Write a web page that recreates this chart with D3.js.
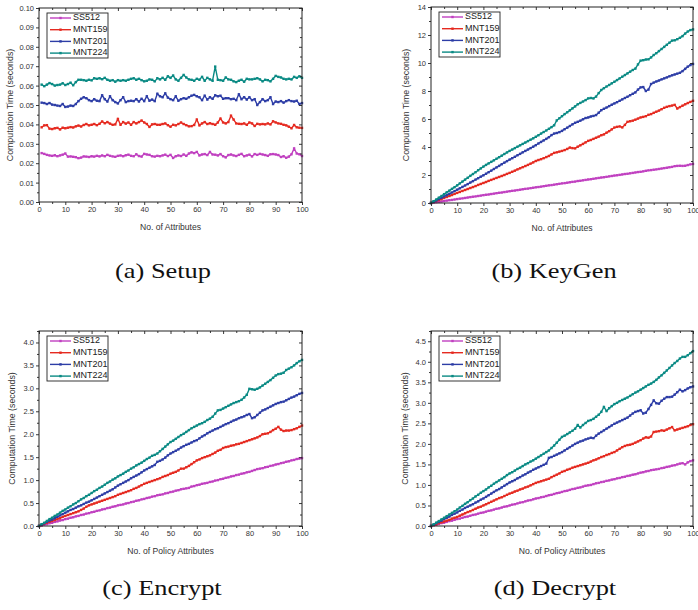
<!DOCTYPE html>
<html>
<head>
<meta charset="utf-8">
<script src="https://cdn.jsdelivr.net/npm/d3@7"></script>
<style>
  body { margin: 0; background: #fff; }
  svg { display: block; }
</style>
</head>
<body>
<div id="chart"></div>
<script>
// series names + colours
const seriesNames = ["SS512", "MNT159", "MNT201", "MNT224"];
const seriesColors = ["#c040c0", "#e52a20", "#2d3da6", "#0a8a84"];

// (a) Setup, attributes 1..100
const setupSS512 = [
  .0252,.0248,.0243,.0240,.0238,.0241,.0236,.0240,.0244,.0250,
  .0234,.0235,.0233,.0231,.0226,.0229,.0235,.0234,.0232,.0236,
  .0234,.0238,.0235,.0240,.0236,.0243,.0238,.0235,.0233,.0238,
  .0240,.0236,.0241,.0244,.0238,.0236,.0246,.0237,.0234,.0248,
  .0245,.0243,.0236,.0234,.0238,.0236,.0240,.0244,.0237,.0243,
  .0227,.0236,.0240,.0237,.0245,.0238,.0250,.0256,.0252,.0258,
  .0240,.0245,.0247,.0242,.0258,.0245,.0244,.0240,.0247,.0236,
  .0230,.0242,.0245,.0240,.0237,.0243,.0248,.0236,.0240,.0244,
  .0235,.0247,.0243,.0248,.0245,.0242,.0238,.0246,.0247,.0245,
  .0242,.0232,.0236,.0228,.0234,.0246,.0276,.0250,.0246,.0237];
const setupMNT159 = [
  .0385,.0395,.0396,.0378,.0376,.0380,.0382,.0374,.0383,.0380,
  .0383,.0386,.0384,.0390,.0394,.0389,.0397,.0402,.0395,.0398,
  .0402,.0396,.0403,.0415,.0406,.0412,.0404,.0398,.0400,.0428,
  .0398,.0412,.0404,.0410,.0398,.0412,.0405,.0412,.0420,.0410,
  .0402,.0387,.0400,.0402,.0398,.0398,.0402,.0405,.0396,.0388,
  .0398,.0395,.0402,.0410,.0402,.0396,.0390,.0391,.0397,.0425,
  .0395,.0405,.0412,.0402,.0406,.0402,.0398,.0410,.0430,.0410,
  .0405,.0412,.0445,.0425,.0405,.0403,.0402,.0405,.0398,.0410,
  .0405,.0392,.0403,.0400,.0402,.0400,.0405,.0400,.0416,.0410,
  .0405,.0403,.0398,.0395,.0388,.0380,.0397,.0385,.0383,.0382];
const setupMNT201 = [
  .0512,.0510,.0505,.0510,.0502,.0500,.0497,.0495,.0505,.0490,
  .0492,.0497,.0495,.0505,.0520,.0532,.0540,.0535,.0525,.0520,
  .0530,.0522,.0520,.0550,.0530,.0518,.0545,.0525,.0515,.0508,
  .0525,.0540,.0515,.0520,.0522,.0520,.0530,.0518,.0532,.0520,
  .0545,.0522,.0528,.0520,.0558,.0545,.0540,.0560,.0538,.0530,
  .0525,.0545,.0522,.0530,.0535,.0532,.0540,.0548,.0552,.0545,
  .0540,.0525,.0548,.0528,.0540,.0532,.0550,.0545,.0548,.0532,
  .0535,.0535,.0530,.0532,.0525,.0555,.0530,.0540,.0528,.0540,
  .0525,.0530,.0500,.0515,.0530,.0520,.0525,.0540,.0505,.0518,
  .0515,.0520,.0512,.0520,.0525,.0520,.0518,.0522,.0505,.0510];
const setupMNT224 = [
  .0605,.0597,.0605,.0613,.0608,.0600,.0603,.0605,.0612,.0603,
  .0608,.0615,.0602,.0618,.0630,.0630,.0628,.0625,.0630,.0627,
  .0638,.0635,.0638,.0633,.0640,.0630,.0625,.0628,.0620,.0628,
  .0625,.0628,.0625,.0630,.0635,.0638,.0630,.0635,.0628,.0622,
  .0625,.0632,.0630,.0622,.0638,.0632,.0640,.0630,.0648,.0640,
  .0652,.0632,.0625,.0640,.0655,.0642,.0632,.0630,.0625,.0635,
  .0630,.0645,.0625,.0640,.0632,.0625,.0698,.0630,.0628,.0625,
  .0642,.0632,.0630,.0622,.0618,.0625,.0630,.0620,.0635,.0632,
  .0632,.0635,.0638,.0632,.0622,.0630,.0628,.0622,.0635,.0650,
  .0645,.0642,.0635,.0632,.0635,.0632,.0645,.0640,.0648,.0640];

// (b) KeyGen, attributes 0..100
const keygenSS512 = [0,
  0.03,0.06,0.08,0.11,0.14,0.17,0.20,0.22,0.25,0.28,
  0.31,0.33,0.36,0.39,0.42,0.45,0.47,0.50,0.53,0.56,
  0.59,0.61,0.64,0.67,0.70,0.73,0.75,0.78,0.81,0.84,
  0.87,0.89,0.92,0.95,0.98,1.01,1.03,1.06,1.09,1.12,
  1.14,1.17,1.20,1.23,1.26,1.28,1.31,1.34,1.37,1.40,
  1.42,1.45,1.48,1.51,1.53,1.57,1.59,1.62,1.65,1.68,
  1.70,1.73,1.76,1.79,1.82,1.84,1.87,1.90,1.93,1.96,
  1.98,2.01,2.04,2.07,2.09,2.12,2.15,2.18,2.21,2.23,
  2.26,2.30,2.33,2.35,2.38,2.40,2.43,2.46,2.49,2.52,
  2.55,2.58,2.63,2.65,2.66,2.65,2.66,2.71,2.76,2.79];
const keygenMNT159 = [0,
  0.07,0.14,0.21,0.28,0.36,0.43,0.50,0.57,0.65,0.72,
  0.79,0.86,0.93,1.00,1.07,1.14,1.21,1.29,1.36,1.43,
  1.50,1.58,1.65,1.72,1.79,1.86,1.93,2.00,2.08,2.15,
  2.23,2.31,2.40,2.48,2.56,2.64,2.72,2.81,2.90,3.00,
  3.07,3.13,3.20,3.28,3.36,3.47,3.58,3.62,3.67,3.72,
  3.78,3.86,3.96,3.92,3.90,4.02,4.12,4.22,4.33,4.44,
  4.50,4.58,4.66,4.74,4.84,4.90,5.02,5.13,5.26,5.39,
  5.44,5.47,5.40,5.58,5.80,5.84,5.88,5.95,6.03,6.11,
  6.15,6.20,6.30,6.35,6.44,6.52,6.60,6.70,6.80,6.87,
  6.92,6.96,7.01,6.75,6.85,6.95,7.05,7.14,7.22,7.30];
const keygenMNT201 = [0,
  0.09,0.18,0.28,0.37,0.47,0.56,0.66,0.75,0.85,0.95,
  1.05,1.15,1.25,1.35,1.46,1.56,1.67,1.77,1.88,1.98,
  2.09,2.20,2.31,2.43,2.54,2.65,2.77,2.88,2.99,3.10,
  3.20,3.30,3.41,3.51,3.62,3.72,3.82,3.92,4.02,4.13,
  4.25,4.36,4.47,4.58,4.70,4.85,4.96,5.00,5.06,5.15,
  5.27,5.38,5.50,5.62,5.73,5.80,5.88,5.98,6.07,6.11,
  6.18,6.22,6.28,6.45,6.63,6.73,6.82,6.92,7.02,7.11,
  7.20,7.30,7.40,7.50,7.59,7.70,7.80,7.90,8.10,8.26,
  8.28,8.00,8.10,8.50,8.60,8.68,8.75,8.83,8.90,8.97,
  9.05,9.12,9.18,9.24,9.30,9.42,9.58,9.74,9.85,9.93];
const keygenMNT224 = [0,
  0.13,0.25,0.38,0.50,0.63,0.76,0.88,1.01,1.13,1.26,
  1.40,1.53,1.67,1.80,1.94,2.07,2.20,2.34,2.47,2.60,
  2.72,2.83,2.94,3.05,3.16,3.27,3.38,3.50,3.61,3.72,
  3.82,3.92,4.02,4.12,4.22,4.32,4.42,4.52,4.62,4.73,
  4.84,4.96,5.07,5.18,5.30,5.42,5.55,5.90,6.05,6.20,
  6.35,6.48,6.62,6.76,6.90,7.05,7.15,7.25,7.35,7.47,
  7.50,7.47,7.60,7.85,8.07,8.20,8.32,8.43,8.55,8.66,
  8.78,8.90,9.02,9.14,9.26,9.38,9.50,9.60,9.90,10.17,
  10.20,10.25,10.26,10.40,10.57,10.70,10.85,11.00,11.15,11.30,
  11.45,11.60,11.62,11.70,11.80,11.92,12.10,12.25,12.35,12.40];

// (c) Encrypt, policy attributes 0..100
const encSS512 = [0,
  0.01,0.03,0.04,0.06,0.07,0.09,0.10,0.12,0.13,0.15,
  0.16,0.18,0.19,0.21,0.22,0.24,0.25,0.27,0.28,0.30,
  0.31,0.33,0.34,0.36,0.37,0.39,0.40,0.42,0.43,0.45,
  0.46,0.47,0.49,0.50,0.52,0.53,0.55,0.56,0.58,0.59,
  0.61,0.62,0.64,0.65,0.67,0.68,0.69,0.71,0.72,0.74,
  0.75,0.77,0.78,0.80,0.81,0.82,0.83,0.86,0.87,0.89,
  0.90,0.92,0.93,0.94,0.96,0.97,0.99,1.00,1.02,1.03,
  1.05,1.06,1.08,1.09,1.11,1.12,1.14,1.15,1.17,1.18,
  1.20,1.22,1.24,1.25,1.26,1.28,1.29,1.31,1.32,1.34,
  1.35,1.37,1.38,1.40,1.41,1.43,1.44,1.46,1.47,1.48];
const encMNT159 = [0,
  0.02,0.05,0.07,0.09,0.11,0.13,0.15,0.17,0.20,0.22,
  0.24,0.26,0.28,0.30,0.32,0.35,0.38,0.42,0.45,0.47,
  0.49,0.51,0.53,0.55,0.57,0.59,0.61,0.63,0.65,0.68,
  0.70,0.72,0.74,0.76,0.78,0.81,0.83,0.86,0.89,0.92,
  0.94,0.96,0.98,1.00,1.02,1.04,1.07,1.09,1.11,1.14,
  1.16,1.18,1.21,1.25,1.25,1.28,1.31,1.35,1.39,1.43,
  1.45,1.48,1.50,1.52,1.54,1.57,1.60,1.64,1.66,1.70,
  1.72,1.73,1.75,1.76,1.78,1.79,1.81,1.83,1.85,1.87,
  1.89,1.91,1.93,1.96,2.00,2.01,2.02,2.05,2.09,2.12,
  2.16,2.10,2.07,2.08,2.08,2.09,2.11,2.13,2.16,2.19];
const encMNT201 = [0,
  0.03,0.06,0.09,0.12,0.14,0.17,0.20,0.23,0.26,0.29,
  0.32,0.35,0.37,0.40,0.43,0.45,0.48,0.51,0.53,0.56,
  0.59,0.62,0.65,0.68,0.71,0.74,0.77,0.80,0.84,0.88,
  0.91,0.94,0.97,1.00,1.04,1.07,1.10,1.13,1.17,1.21,
  1.24,1.27,1.30,1.33,1.40,1.42,1.45,1.49,1.54,1.58,
  1.61,1.64,1.67,1.71,1.74,1.77,1.79,1.82,1.85,1.87,
  1.91,1.95,1.98,2.02,2.05,2.08,2.11,2.13,2.16,2.19,
  2.22,2.24,2.27,2.30,2.32,2.35,2.37,2.39,2.42,2.44,
  2.35,2.37,2.42,2.47,2.52,2.54,2.57,2.60,2.63,2.66,
  2.68,2.70,2.71,2.74,2.77,2.80,2.82,2.85,2.88,2.90];
const encMNT224 = [0,
  0.04,0.07,0.11,0.15,0.18,0.22,0.25,0.29,0.33,0.36,
  0.40,0.43,0.47,0.50,0.54,0.58,0.61,0.65,0.68,0.72,
  0.76,0.79,0.83,0.86,0.90,0.94,0.97,1.01,1.04,1.08,
  1.11,1.14,1.18,1.21,1.25,1.28,1.32,1.35,1.38,1.42,
  1.46,1.49,1.53,1.55,1.58,1.63,1.68,1.73,1.78,1.83,
  1.86,1.90,1.94,1.98,2.01,2.05,2.09,2.13,2.16,2.19,
  2.22,2.24,2.27,2.31,2.34,2.38,2.45,2.52,2.53,2.56,
  2.59,2.62,2.65,2.68,2.70,2.72,2.75,2.80,2.86,2.99,
  2.98,2.97,2.99,3.02,3.06,3.10,3.14,3.18,3.23,3.28,
  3.31,3.32,3.34,3.40,3.43,3.46,3.50,3.55,3.59,3.62];

// (d) Decrypt, policy attributes 0..100
const decSS512 = [0,
  0.02,0.03,0.05,0.07,0.08,0.10,0.12,0.13,0.15,0.17,
  0.18,0.20,0.22,0.23,0.25,0.27,0.28,0.30,0.32,0.33,
  0.35,0.37,0.38,0.40,0.42,0.43,0.45,0.47,0.48,0.50,
  0.52,0.53,0.55,0.57,0.58,0.60,0.62,0.63,0.65,0.67,
  0.68,0.70,0.71,0.73,0.75,0.76,0.78,0.80,0.81,0.83,
  0.85,0.86,0.88,0.90,0.91,0.93,0.94,0.96,0.98,0.99,
  1.00,1.02,1.04,1.05,1.07,1.08,1.10,1.11,1.13,1.14,
  1.16,1.17,1.19,1.20,1.22,1.23,1.25,1.26,1.28,1.30,
  1.31,1.33,1.34,1.36,1.37,1.38,1.39,1.41,1.42,1.44,
  1.45,1.47,1.48,1.50,1.52,1.53,1.50,1.55,1.58,1.60];
const decMNT159 = [0,
  0.02,0.04,0.07,0.09,0.11,0.13,0.15,0.18,0.20,0.22,
  0.25,0.28,0.31,0.34,0.36,0.39,0.42,0.45,0.47,0.50,
  0.53,0.56,0.59,0.62,0.65,0.68,0.70,0.73,0.76,0.79,
  0.81,0.84,0.86,0.89,0.91,0.94,0.96,0.99,1.02,1.05,
  1.07,1.09,1.11,1.13,1.15,1.19,1.22,1.25,1.28,1.32,
  1.34,1.37,1.39,1.42,1.44,1.46,1.48,1.50,1.52,1.54,
  1.57,1.60,1.62,1.65,1.68,1.70,1.73,1.75,1.78,1.80,
  1.84,1.88,1.92,1.95,1.97,1.98,2.00,2.03,2.06,2.09,
  2.13,2.16,2.15,2.18,2.29,2.30,2.31,2.33,2.32,2.35,
  2.38,2.41,2.33,2.35,2.37,2.39,2.41,2.43,2.46,2.48];
const decMNT201 = [0,
  0.03,0.07,0.10,0.13,0.17,0.20,0.23,0.27,0.30,0.33,
  0.37,0.40,0.44,0.47,0.50,0.53,0.57,0.60,0.64,0.67,
  0.71,0.75,0.79,0.83,0.87,0.90,0.94,0.98,1.02,1.06,
  1.09,1.12,1.16,1.19,1.23,1.26,1.30,1.33,1.37,1.40,
  1.43,1.46,1.49,1.52,1.66,1.68,1.71,1.74,1.77,1.80,
  1.84,1.88,1.92,1.96,2.00,2.03,2.06,2.08,2.11,2.13,
  2.15,2.14,2.20,2.25,2.29,2.33,2.37,2.41,2.45,2.49,
  2.52,2.55,2.58,2.61,2.64,2.69,2.74,2.78,2.80,2.82,
  2.74,2.76,2.85,2.95,3.06,2.99,2.98,3.05,3.10,3.14,
  3.14,3.15,3.20,3.26,3.32,3.28,3.31,3.35,3.38,3.40];
const decMNT224 = [0,
  0.04,0.08,0.12,0.16,0.20,0.24,0.28,0.32,0.36,0.40,
  0.45,0.49,0.54,0.58,0.63,0.67,0.72,0.76,0.81,0.85,
  0.89,0.94,0.98,1.03,1.07,1.11,1.15,1.19,1.24,1.28,
  1.31,1.35,1.39,1.42,1.46,1.50,1.53,1.57,1.60,1.64,
  1.68,1.72,1.76,1.80,1.84,1.90,1.96,2.03,2.10,2.17,
  2.20,2.24,2.28,2.32,2.37,2.46,2.40,2.46,2.51,2.56,
  2.58,2.61,2.66,2.71,2.78,2.90,2.80,2.87,2.92,2.97,
  3.00,3.04,3.07,3.10,3.13,3.17,3.21,3.25,3.28,3.32,
  3.36,3.40,3.44,3.47,3.51,3.56,3.62,3.67,3.73,3.79,
  3.85,3.91,3.97,4.02,4.08,4.12,4.12,4.16,4.21,4.26];

// y tick values per panel
const setupTicks = [0, 0.01, 0.02, 0.03, 0.04, 0.05, 0.06, 0.07, 0.08, 0.09, 0.10];
const keygenTicks = [0, 2, 4, 6, 8, 10, 12, 14];
const encTicks = [0, 0.5, 1.0, 1.5, 2.0, 2.5, 3.0, 3.5, 4.0];
const decTicks = [0, 0.5, 1.0, 1.5, 2.0, 2.5, 3.0, 3.5, 4.0, 4.5];
const xTicks = [0, 10, 20, 30, 40, 50, 60, 70, 80, 90, 100];

const panels = [
  { left: 39, top: 8, w: 263, h: 194, yMax: 0.10, yTicks: setupTicks, yMinorStep: 0.005, fmt: ".2f",
    x0: 1, series: [setupSS512, setupMNT159, setupMNT201, setupMNT224],
    xTitle: "No. of Attributes", yTitleX: 11, caption: "(a) Setup", capX: 163, capY: 278 },
  { left: 431, top: 7, w: 262, h: 196, yMax: 14, yTicks: keygenTicks, yMinorStep: 1, fmt: "d",
    x0: 0, series: [keygenSS512, keygenMNT159, keygenMNT201, keygenMNT224],
    xTitle: "No. of Attributes", yTitleX: 407, caption: "(b) KeyGen", capX: 554, capY: 278 },
  { left: 39, top: 331, w: 263, h: 195, yMax: 4.25, yTicks: encTicks, yMinorStep: 0.25, fmt: ".1f",
    x0: 0, series: [encSS512, encMNT159, encMNT201, encMNT224],
    xTitle: "No. of Policy Attributes", yTitleX: 13, caption: "(c) Encrypt", capX: 162, capY: 595 },
  { left: 431, top: 331, w: 262, h: 195, yMax: 4.75, yTicks: decTicks, yMinorStep: 0.25, fmt: ".1f",
    x0: 0, series: [decSS512, decMNT159, decMNT201, decMNT224],
    xTitle: "No. of Policy Attributes", yTitleX: 406, caption: "(d) Decrypt", capX: 555, capY: 595 }
];

const svg = d3.select("#chart").append("svg")
  .attr("width", 698)
  .attr("height", 610)
  .style("font-family", "Liberation Sans, Arial, sans-serif");

panels.forEach(drawPanel);

function drawPanel(p) {
  const g = svg.append("g").attr("transform", `translate(${p.left},${p.top})`);
  const x = d3.scaleLinear().domain([0, 100]).range([0, p.w]);
  const y = d3.scaleLinear().domain([0, p.yMax]).range([p.h, 0]);

  const minorX = d3.range(5, 100, 10);
  const minorY = d3.range(p.yMinorStep, p.yMax + 1e-9, p.yMinorStep)
    .filter((v) => !p.yTicks.some((t) => Math.abs(t - v) < 1e-9));

  // lines + markers
  p.series.forEach((vals, si) => {
    const pts = vals.map((v, i) => [p.x0 + i, v]);
    const line = d3.line().x((d) => x(d[0])).y((d) => y(d[1]));
    g.append("path")
      .datum(pts)
      .attr("fill", "none")
      .attr("stroke", seriesColors[si])
      .attr("stroke-width", 1.4)
      .attr("d", line);
    g.selectAll(null)
      .data(pts)
      .enter()
      .append("rect")
      .attr("x", (d) => x(d[0]) - 1.2)
      .attr("y", (d) => y(d[1]) - 1.2)
      .attr("width", 2.4)
      .attr("height", 2.4)
      .attr("fill", seriesColors[si]);
  });

  // axes: outward ticks left/bottom, inward ticks top/right
  const axisStyle = (sel) => {
    sel.select(".domain").remove();
    sel.selectAll("line").attr("stroke", "#222").attr("stroke-width", 0.9);
    sel.selectAll("text").attr("fill", "#333").style("font-size", "7.5px");
  };
  g.append("g").attr("transform", `translate(0,${p.h})`)
    .call(d3.axisBottom(x).tickValues(xTicks).tickSize(3).tickPadding(2).tickFormat(d3.format("d")))
    .call(axisStyle);
  g.append("g").attr("transform", `translate(0,${p.h})`)
    .call(d3.axisBottom(x).tickValues(minorX).tickSize(2).tickFormat(""))
    .call(axisStyle);
  g.append("g")
    .call(d3.axisLeft(y).tickValues(p.yTicks).tickSize(3).tickPadding(2).tickFormat(d3.format(p.fmt)))
    .call(axisStyle);
  g.append("g")
    .call(d3.axisLeft(y).tickValues(minorY).tickSize(2).tickFormat(""))
    .call(axisStyle);
  g.append("g")
    .call(d3.axisBottom(x).tickValues(xTicks).tickSize(3).tickFormat(""))
    .call(axisStyle);
  g.append("g")
    .call(d3.axisBottom(x).tickValues(minorX).tickSize(2).tickFormat(""))
    .call(axisStyle);
  g.append("g").attr("transform", `translate(${p.w},0)`)
    .call(d3.axisLeft(y).tickValues(p.yTicks).tickSize(3).tickFormat(""))
    .call(axisStyle);
  g.append("g").attr("transform", `translate(${p.w},0)`)
    .call(d3.axisLeft(y).tickValues(minorY).tickSize(2).tickFormat(""))
    .call(axisStyle);

  // frame
  g.append("rect")
    .attr("width", p.w)
    .attr("height", p.h)
    .attr("fill", "none")
    .attr("stroke", "#222")
    .attr("stroke-width", 1);

  // axis titles
  g.append("text")
    .attr("x", p.w / 2)
    .attr("y", p.h + 28)
    .attr("text-anchor", "middle")
    .attr("fill", "#333")
    .style("font-size", "8.6px")
    .text(p.xTitle);
  svg.append("text")
    .attr("transform", `translate(${p.yTitleX},${p.top + p.h / 2}) rotate(-90)`)
    .attr("text-anchor", "middle")
    .attr("dominant-baseline", "middle")
    .attr("fill", "#333")
    .style("font-size", "8.8px")
    .text("Computation Time (seconds)");

  // legend
  const lg = g.append("g").attr("transform", "translate(8,5)");
  lg.append("rect")
    .attr("width", 61)
    .attr("height", 45)
    .attr("fill", "#fff")
    .attr("stroke", "#222")
    .attr("stroke-width", 0.9);
  seriesNames.forEach((name, i) => {
    const ly = 5 + i * 11.7;
    lg.append("line")
      .attr("x1", 3).attr("x2", 24)
      .attr("y1", ly).attr("y2", ly)
      .attr("stroke", seriesColors[i])
      .attr("stroke-width", 1.4);
    lg.append("rect")
      .attr("x", 12.3).attr("y", ly - 1.2)
      .attr("width", 2.4).attr("height", 2.4)
      .attr("fill", seriesColors[i]);
    lg.append("text")
      .attr("x", 26)
      .attr("y", ly)
      .attr("dominant-baseline", "middle")
      .attr("fill", "#222")
      .style("font-size", "9px")
      .text(name);
  });

  // caption (serif, widened to look like the LaTeX roman font)
  svg.append("text")
    .attr("transform", `translate(${p.capX},${p.capY}) scale(1.2,1)`)
    .attr("text-anchor", "middle")
    .attr("fill", "#111")
    .style("font-family", "Liberation Serif, serif")
    .style("font-size", "22px")
    .text(p.caption);
}
</script>
</body>
</html>
